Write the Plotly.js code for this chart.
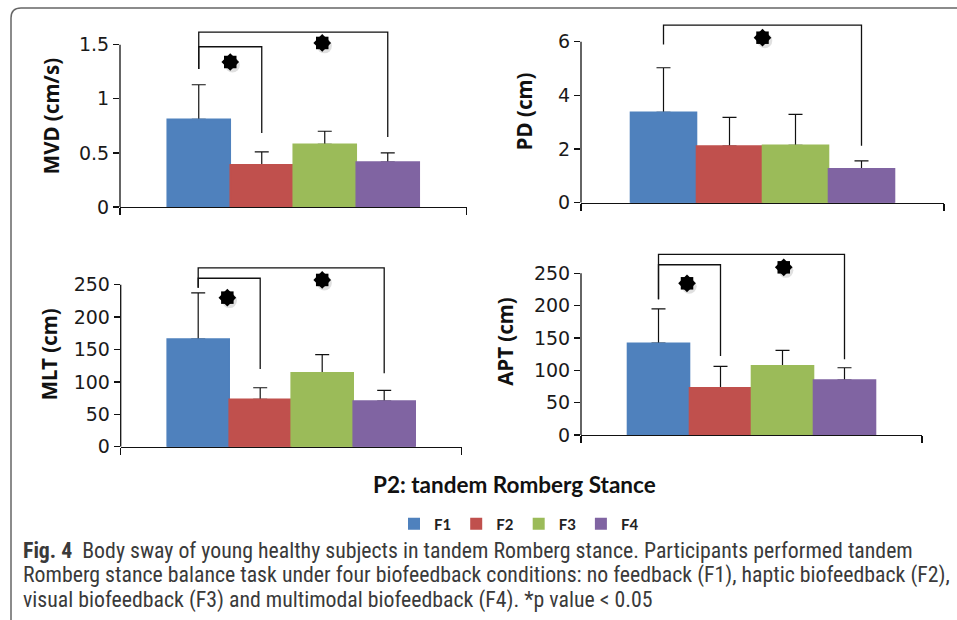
<!DOCTYPE html>
<html>
<head>
<meta charset="utf-8">
<script src="https://cdn.plot.ly/plotly-3.0.1.min.js"></script>
<style>html,body{margin:0;padding:0;background:#fff;}#chart{width:957px;height:620px;}</style>
</head>
<body>
<div id="chart"></div>
<script>
// ---- data ----
const conditions = ['F1', 'F2', 'F3', 'F4'];
const colors = ['#4F81BD', '#C0504D', '#9BBB59', '#8064A2'];

const mvdMean = [0.81, 0.39, 0.58, 0.415];
const mvdSD   = [0.32, 0.12, 0.12, 0.085];
const pdMean  = [3.37, 2.11, 2.14, 1.26];
const pdSD    = [1.66, 1.07, 1.15, 0.30];
const mltMean = [166, 73, 114, 70.5];
const mltSD   = [71.5, 18, 28, 16.5];
const aptMean = [142, 73, 107, 85];
const aptSD   = [53, 33, 24, 19];

const yTitles = ['MVD (cm/s)', 'PD (cm)', 'MLT (cm)', 'APT (cm)'];
const yTicks = [[0, 0.5, 1, 1.5], [0, 2, 4, 6], [0, 50, 100, 150, 200, 250], [0, 50, 100, 150, 200, 250]];

// significance brackets: [fromIdx, toIdx, top, leftLegBottom, rightLegBottom]
const sigMVD = [[0, 1, 1.481, 1.275, 0.684], [0, 3, 1.617, 1.275, 0.647]];
const sigPD  = [[0, 3, 6.62, 5.90, 2.12]];
const sigMLT = [[0, 1, 259.9, 245.4, 119.9], [0, 3, 275.8, 245.4, 113.3]];
const sigAPT = [[0, 1, 263.3, 209.8, 122.2], [0, 3, 279.4, 209.8, 117.1]];
const starMVD = {x: [0.5, 1.96], y: [1.34, 1.516]};
const starPD  = {x: [1.5], y: [6.15]};
const starMLT = {x: [0.47, 2.0], y: [230, 257.3]};
const starAPT = {x: [0.46, 2.02], y: [234.6, 259.3]};

const caption = [
  '<b>Fig. 4</b>\u00a0\u00a0Body sway of young healthy subjects in tandem Romberg stance. Participants performed tandem',
  'Romberg stance balance task under four biofeedback conditions: no feedback (F1), haptic biofeedback (F2),',
  'visual biofeedback (F3) and multimodal biofeedback (F4). *p value < 0.05'
];

// ---- layout helpers ----
const W = 957, H = 620;
const panels = [
  {mean: mvdMean, sd: mvdSD, sig: sigMVD, star: starMVD, x: [120, 466.5], y: [25, 207], yr: [0, 1.682], standoff: 13},
  {mean: pdMean, sd: pdSD, sig: sigPD, star: starPD, x: [581, 944], y: [20, 202.7], yr: [0, 6.81], standoff: 19},
  {mean: mltMean, sd: mltSD, sig: sigMLT, star: starMLT, x: [120.7, 461.7], y: [262, 446.7], yr: [0, 285], standoff: 10},
  {mean: aptMean, sd: aptSD, sig: sigAPT, star: starAPT, x: [581, 922], y: [248, 435], yr: [0, 289.2], standoff: 14}
];

const FONT = 'Lato, "Open Sans", sans-serif';
const TITLEFONT = '"Noto Sans", "Open Sans", sans-serif';
const TICKFONT = '"DejaVu Sans", "Open Sans", sans-serif';
const traces = [];
const shapes = [];
const layout = {
  width: W, height: H,
  margin: {l: 0, r: 0, t: 0, b: 0},
  paper_bgcolor: '#fff', plot_bgcolor: 'rgba(0,0,0,0)',
  barmode: 'overlay',
  showlegend: true,
  legend: {orientation: 'h', x: 519 / W, xanchor: 'center', y: 1 - 524 / H, yanchor: 'middle',
           font: {family: FONT, size: 15, color: '#222', weight: 'bold'}, itemwidth: 30, tracegroupgap: 0},
  font: {family: FONT, color: '#222'},
  annotations: [],
  shapes: shapes
};

panels.forEach((p, k) => {
  const n = k + 1;
  const xa = 'x' + (n === 1 ? '' : n), ya = 'y' + (n === 1 ? '' : n);
  const xKey = 'xaxis' + (n === 1 ? '' : n), yKey = 'yaxis' + (n === 1 ? '' : n);
  // bars with one-sided (upper) error bars
  conditions.forEach((c, i) => {
    traces.push({
      type: 'bar', x: [i], y: [p.mean[i]], width: [1], name: c,
      marker: {color: colors[i], line: {width: 0}},
      error_y: {type: 'data', symmetric: false, array: [p.sd[i]], arrayminus: [0], color: '#111', thickness: 1.2, width: 7},
      xaxis: xa, yaxis: ya, showlegend: k === 0, legendgroup: c, hoverinfo: 'y'
    });
  });
  // same bars drawn again on top, hiding the lower whisker cap at the bar top
  conditions.forEach((c, i) => {
    traces.push({
      type: 'bar', x: [i], y: [p.mean[i]], width: [1], name: c,
      marker: {color: colors[i], line: {width: 1.6, color: colors[i]}},
      xaxis: xa, yaxis: ya, showlegend: false, legendgroup: c, hoverinfo: 'skip'
    });
  });
  layout[xKey] = {
    domain: [p.x[0] / W, p.x[1] / W], range: [-1.25, 4.25], anchor: ya,
    showline: true, linecolor: '#111', linewidth: 1.3, ticks: 'outside', ticklen: 7, tickcolor: '#111', tickwidth: 1.3,
    tickvals: [-1.25, 4.25], showticklabels: false, showgrid: false, zeroline: false, fixedrange: true
  };
  layout[yKey] = {
    domain: [1 - p.y[1] / H, 1 - p.y[0] / H], range: p.yr, anchor: xa,
    showline: false, ticks: 'outside', ticklen: 6, tickcolor: '#111', tickwidth: 1.3,
    tickvals: yTicks[k], tickfont: {family: TICKFONT, size: 19, color: '#1a1a1a'},
    showgrid: false, zeroline: false, fixedrange: true,
    title: {text: yTitles[k], font: {family: TITLEFONT, size: 20.5, color: '#111', weight: 'bold'}, standoff: p.standoff}
  };
  // y axis line up to the last tick
  shapes.push({type: 'line', xref: xa + ' domain', yref: ya, x0: 0, x1: 0, y0: 0, y1: yTicks[k][yTicks[k].length - 1],
               line: {color: '#111', width: 1.3}});
  // significance brackets
  p.sig.forEach(s => {
    shapes.push({type: 'path', xref: xa, yref: ya,
      path: `M ${s[0]},${s[3]} L ${s[0]},${s[2]} L ${s[1]},${s[2]} L ${s[1]},${s[4]}`,
      line: {color: '#111', width: 1.3}});
  });
  // stars: faint shadow + eight-pointed star (two squares, one turned 45 degrees)
  traces.push({type: 'scatter', mode: 'markers', x: p.star.x.map(v => v + 0.035), y: p.star.y.map(v => v - p.yr[1] * 0.016),
    marker: {symbol: 'circle', size: 15, color: 'rgba(0,0,0,0.12)', line: {width: 0}},
    xaxis: xa, yaxis: ya, showlegend: false, hoverinfo: 'skip', cliponaxis: false});
  traces.push({type: 'scatter', mode: 'markers', x: p.star.x, y: p.star.y,
    marker: {symbol: 'square', size: 12.5, color: '#000', line: {width: 0}},
    xaxis: xa, yaxis: ya, showlegend: false, hoverinfo: 'skip', cliponaxis: false});
  traces.push({type: 'scatter', mode: 'markers', x: p.star.x, y: p.star.y,
    marker: {symbol: 'square', size: 12.5, angle: 45, color: '#000', line: {width: 0}},
    xaxis: xa, yaxis: ya, showlegend: false, hoverinfo: 'skip', cliponaxis: false});
});

// rounded frame
const L = 11 / W, T = 1 - 8 / H, R = 1.03, B = -0.03, rx = 10 / W, ry = 10 / H;
shapes.push({type: 'path', xref: 'paper', yref: 'paper', layer: 'below',
  path: `M ${R},${T} L ${L + rx},${T} Q ${L},${T} ${L},${T - ry} L ${L},${B}`,
  line: {color: '#666', width: 1.5}});

layout.annotations.push({text: '<b>P2: tandem Romberg Stance</b>', xref: 'paper', yref: 'paper',
  x: 514 / W, y: 1 - 484 / H, xanchor: 'center', yanchor: 'middle', showarrow: false,
  font: {family: FONT, size: 22.5, color: '#111'}});
caption.forEach((t, i) => {
  layout.annotations.push({text: t, xref: 'paper', yref: 'paper', x: 21 / W, y: 1 - (550 + 25 * i) / H,
    xanchor: 'left', yanchor: 'middle', showarrow: false, align: 'left',
    font: {family: '"Liberation Sans Narrow", "Roboto Condensed", "Open Sans", sans-serif', size: 21.8, color: '#3a3a3a'}});
});

Plotly.newPlot('chart', traces, layout, {displayModeBar: false, staticPlot: true});
</script>
</body>
</html>
